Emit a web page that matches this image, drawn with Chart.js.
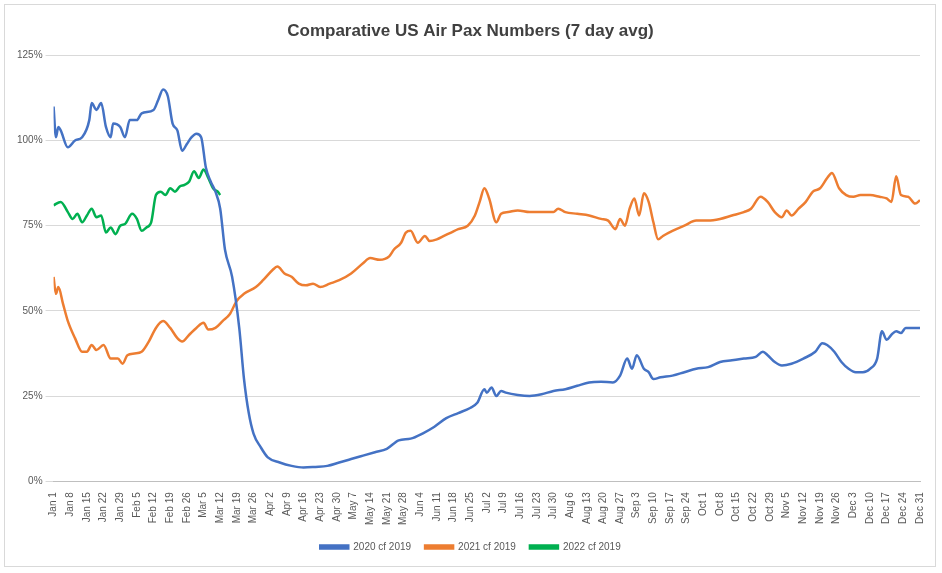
<!DOCTYPE html>
<html>
<head>
<meta charset="utf-8">
<script src="https://cdn.jsdelivr.net/npm/chart.js@4/dist/chart.umd.min.js"></script>
<style>
  body { margin: 0; background: #fff; }
  #wrap { position: absolute; left: 4px; top: 4px; width: 932px; height: 563px; border: 1px solid #d9d9d9; box-sizing: border-box; }
</style>
</head>
<body>
<div id="wrap"><canvas id="c"></canvas></div>
<script>
// day-of-year (0 = Jan 1) and value (% of 2019) pairs
const days2020 = [0,1,2,3,6,9,12,15,16,18,20,22,24,25,28,30,32,35,37,42,44,46,48,50,52,54,56,58,60,62,64,66,68,70,72,75,78,80,82,84,87,90,95,100,105,110,115,120,125,130,135,140,145,150,155,160,165,170,175,178,181,182,184,186,188,190,195,200,205,210,215,220,225,230,235,238,241,243,245,248,250,252,255,260,265,270,275,280,285,290,295,298,300,303,306,310,315,320,323,325,328,331,334,337,340,343,346,348,350,352,354,356,358,364];
const vals2020 = [110,101,104,103,98,100,101,106,111,109,111,104,101,105,104,101,106,106,108,109,112,115,113,105,103,97,99,101,102,101,92,88,85,80,68,60,45,30,20,14,10,7,5.5,4.5,4,4.2,4.5,5.5,6.5,7.5,8.5,9.5,12,12.5,14,16,18.5,20,21.5,23,27,26,27.5,25,26.5,26,25.3,25,25.5,26.5,27,28,29,29.2,29,31,36,33,37,33,32,30,30.5,31,32,33,33.5,35,35.5,36,36.5,38,37,35,34,34.5,36,38,40.5,40,38,35,33,32,32,33,36,44,41.5,43,44,43.5,45,45];

const days2021 = [0,1,2,4,6,9,12,14,16,18,21,24,27,29,31,34,37,40,43,46,49,52,54,57,60,63,65,68,71,74,77,80,85,88,92,94,97,100,103,106,109,112,116,120,125,130,133,137,141,143,146,148,150,153,156,158,161,164,167,170,174,177,179,181,183,186,188,191,195,200,205,210,212,215,220,225,230,233,236,238,240,242,244,246,248,250,252,254,256,260,265,270,275,280,285,290,293,297,300,303,306,308,310,313,316,319,322,325,327,330,333,336,339,343,347,350,352,354,356,359,362,364];
const vals2021 = [60,55,57,52,47,42,38,38,40,38.5,40,36,36,34.5,37,37.5,38,41,45,47,45,42,41,43,45,46.5,44.5,45,47,49,53,55,57,59,62,63,61,60,58,57.5,58,57,58,59,61,64,65.5,65,66,68,70,73,73.5,70,72,70.5,71,72,73,74,75,78,82,86,83,76,78.5,79,79.5,79,79,79,80,79,78.5,78,77,76.5,74,77,75,80,83,78,84.5,82,76,71,72,73.5,75,76.5,76.5,77,78,79,80,83.5,82,79,77.5,79.5,78,80,82,85,86,89,90.5,86,84,83.5,84,84,83.5,83,82,89.5,84,83.5,81.5,82.5];

const days2022 = [0,3,6,8,10,12,14,16,18,20,22,24,26,28,30,33,35,37,39,41,43,45,47,49,51,53,55,57,59,61,63,65,67,69,70];
const vals2022 = [81,82,79,77,78.5,76,78,80,77.5,78,73,74.5,72.5,75,75.5,78.5,77,73.5,74.5,76,84,85,84,86,85,86.5,87,88,91,89,91.5,89,86,85,84];

const seriesNames = ['2020 cf 2019', '2021 cf 2019', '2022 cf 2019'];
const seriesColors = ['#4472C4', '#ED7D31', '#00B050'];
const yTicks = [0, 25, 50, 75, 100, 125];

const months = ['Jan','Feb','Mar','Apr','May','Jun','Jul','Aug','Sep','Oct','Nov','Dec'];
function dayLabel(d) {
  const dt = new Date(2021, 0, 1 + d);
  return months[dt.getMonth()] + ' ' + dt.getDate();
}
function pts(ds, vs) { return ds.map((d, i) => ({ x: d, y: vs[i] })); }

const sets = [pts(days2020, vals2020), pts(days2021, vals2021), pts(days2022, vals2022)];

new Chart(document.getElementById('c'), {
  type: 'line',
  data: {
    datasets: sets.map((s, i) => ({
      label: seriesNames[i],
      data: s,
      borderColor: seriesColors[i],
      backgroundColor: seriesColors[i],
      borderWidth: 2.5,
      pointRadius: 0,
      cubicInterpolationMode: 'monotone'
    }))
  },
  options: {
    responsive: true,
    maintainAspectRatio: false,
    animation: false,
    layout: { padding: { left: 9, right: 8, top: 8, bottom: 4 } },
    plugins: {
      title: {
        display: true,
        text: 'Comparative US Air Pax Numbers (7 day avg)',
        color: '#404040',
        font: { family: 'Liberation Sans', size: 17, weight: 'bold' },
        padding: { top: 8, bottom: 14 }
      },
      legend: {
        position: 'bottom',
        labels: {
          boxWidth: 28, boxHeight: 3, padding: 14,
          color: '#595959',
          font: { family: 'Liberation Sans', size: 10 }
        }
      },
      tooltip: { enabled: false }
    },
    scales: {
      x: {
        type: 'linear',
        min: 0, max: 364,
        afterBuildTicks: ax => {
          const t = [];
          for (let d = 0; d <= 364; d += 7) t.push({ value: d });
          ax.ticks = t;
        },
        ticks: {
          callback: v => dayLabel(v),
          autoSkip: false,
          minRotation: 90, maxRotation: 90,
          color: '#595959',
          font: { family: 'Liberation Sans', size: 10 }
        },
        grid: { display: false },
        border: { color: '#bfbfbf' }
      },
      y: {
        min: 0, max: 125,
        afterBuildTicks: ax => { ax.ticks = yTicks.map(v => ({ value: v })); },
        ticks: {
          callback: v => v + '%',
          color: '#595959',
          font: { family: 'Liberation Sans', size: 10 }
        },
        grid: { color: '#d9d9d9' },
        border: { display: false }
      }
    }
  }
});
</script>
</body>
</html>
